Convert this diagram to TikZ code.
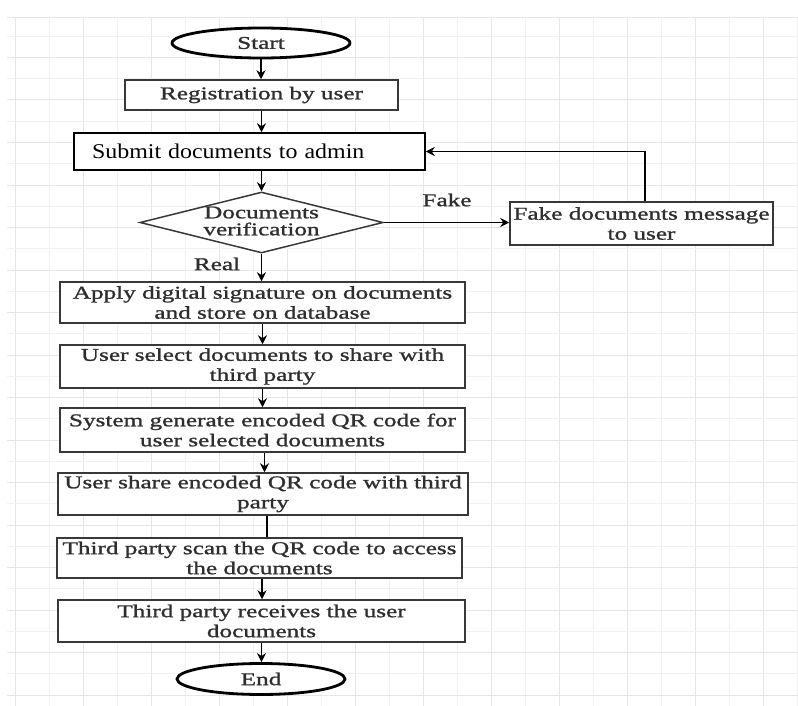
\documentclass[tikz,border=0pt]{standalone}
\usepackage{fontspec}
\setmainfont{Liberation Serif}
\newfontfamily\gfont[FakeStretch=1.4,FakeBold=1.2]{Liberation Serif}
\newfontfamily\sfontx[FakeStretch=1.14]{Liberation Serif}
\usetikzlibrary{shapes.geometric,arrows.meta,calc}
\definecolor{txtgray}{HTML}{2E2E2E}
\definecolor{linegray}{HTML}{383838}
\definecolor{gridmaj}{HTML}{E6E6E6}
\definecolor{gridmin}{HTML}{F1F1F1}
\begin{document}
\begin{tikzpicture}[x=1pt,y=-1pt,
  box/.style={draw=linegray, line width=1.5pt, fill=white, inner sep=0pt, align=center,
    font=\gfont\fontsize{18}{20}\selectfont, text=txtgray},
  term/.style={ellipse, draw=black, line width=2.8pt, fill=white, inner sep=0pt,
    font=\gfont\fontsize{18}{20}\selectfont, text=txtgray},
  arr/.style={draw=black, line width=1.5pt, -{Stealth[length=9pt,width=9pt]}},
  plain/.style={draw=black, line width=1.5pt},
  lbl/.style={font=\gfont\fontsize{18}{20}\selectfont, text=txtgray, inner sep=0pt}
]
\fill[white] (0,0) rectangle (798,706);
\useasboundingbox (0,0) rectangle (798,706);
% grid
\begin{scope}
  \clip (7,18) rectangle (798,706);
  \foreach \i in {0,...,23} \draw[gridmin, line width=1pt] ({49+34*\i},18) -- ({49+34*\i},706);
  \foreach \i in {0,...,11} \draw[gridmaj, line width=1pt] ({15+68*\i},18) -- ({15+68*\i},706);
  \foreach \j in {0,...,16} \draw[gridmin, line width=1pt] (7,{36.25+42.5*\j}) -- (798,{36.25+42.5*\j});
  \foreach \j in {0,...,16} \draw[gridmaj, line width=1pt] (7,{15+42.5*\j}) -- (798,{15+42.5*\j});
  \draw[gridmaj, line width=1pt] (7,18) -- (798,18);
\end{scope}

% nodes
\node[term, minimum width=178, minimum height=30] (start) at (261,43) {Start};
\node[box, minimum width=273, minimum height=30] (reg) at (261.5,95) {Registration by user};
\node[draw=black, line width=1.5pt, fill=white, minimum width=351, minimum height=37,
  inner xsep=18pt, inner ysep=0pt, text width=315pt, align=left,
  font=\sfontx\fontsize{21}{24}\selectfont] (submit) at (249.5,151.5) {Submit documents to admin};
\node[diamond, draw=linegray, line width=1.5pt, fill=white, inner sep=0pt,
  minimum width=243, minimum height=61] (dec) at (261.5,222.5) {};
\node[align=center, inner sep=0pt, text=txtgray,
  font=\gfont\fontsize{18}{17}\selectfont] (dectxt) at (261.5,221) {Documents\\verification};
\node[box, minimum width=263, minimum height=43] (fake) at (641.5,223.5) {Fake documents message\\to user};
\node[box, minimum width=405, minimum height=41] (apply) at (262.5,302.5) {Apply digital signature on documents\\and store on database};
\node[box, minimum width=405, minimum height=43] (sel) at (262.5,366.5) {User select documents to share with\\third party};
\node[box, minimum width=405, minimum height=44] (sys) at (262.5,430) {System generate encoded QR code for\\user selected documents};
\node[box, minimum width=410, minimum height=42] (share) at (263,494) {User share encoded QR code with third\\party};
\node[box, minimum width=405, minimum height=40] (scan) at (259.5,558) {Third party scan the QR code to access\\the documents};
\node[box, minimum width=407, minimum height=42] (recv) at (261.5,621) {Third party receives the user\\documents};
\node[term, minimum width=168, minimum height=31] (end) at (261,679) {End};

\node[lbl] (fakelbl) at (447,200) {Fake};
\node[lbl] (reallbl) at (217,264) {Real};

% connectors
\draw[arr] (start.south) -- (start.south |- reg.north);
\draw[arr] (reg.south) -- (reg.south |- submit.north);
\draw[arr] (submit.south -| dec.north) -- (dec.north);
\draw[arr] (dec.east) -- (dec.east -| fake.west);
\draw[arr] ([xshift=3.5pt]fake.north) |- (submit.east);
\draw[arr] (dec.south) -- (dec.south |- apply.north);
\draw[arr] (apply.south) -- (apply.south |- sel.north);
\draw[arr] (sel.south) -- (sel.south |- sys.north);
\draw[arr] ([xshift=2pt]sys.south) -- ([xshift=2pt]sys.south |- share.north);
\draw[plain] ([xshift=4pt]share.south) -- ([xshift=4pt]share.south |- scan.north);
\draw[arr] ([xshift=2.5pt]scan.south) -- ([xshift=2.5pt]scan.south |- recv.north);
\draw[arr] (recv.south) -- (recv.south |- end.north);
\end{tikzpicture}
\end{document}
